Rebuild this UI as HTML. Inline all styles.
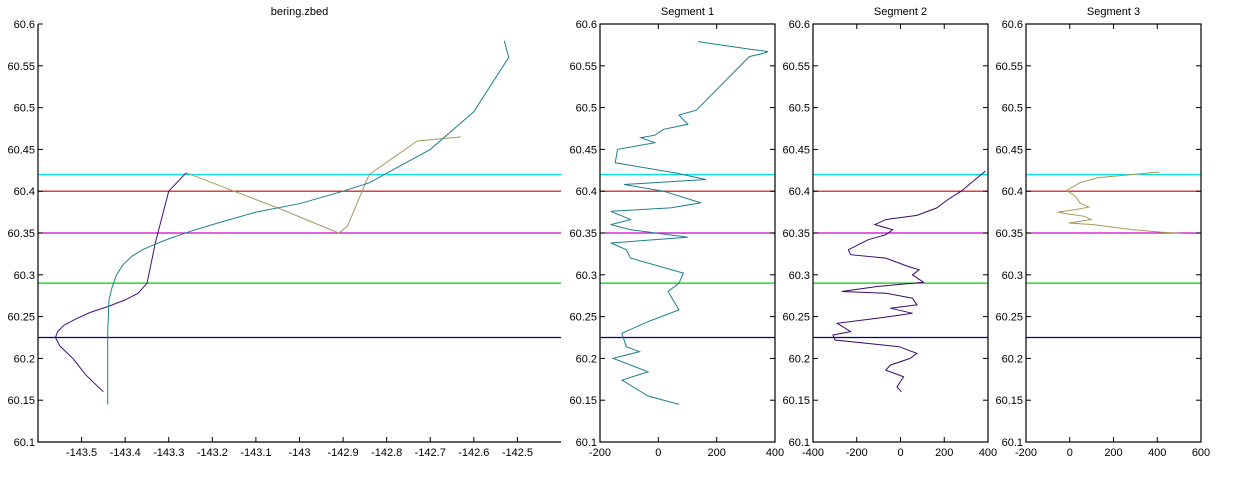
<!DOCTYPE html>
<html><head><meta charset="utf-8"><style>
body{margin:0;background:#fff;}
svg{display:block;font-family:"Liberation Sans",sans-serif;}
text{font-size:11px;fill:#000;}
</style></head><body>
<svg id="chart" width="1250" height="480" viewBox="0 0 1250 480" xmlns="http://www.w3.org/2000/svg"></svg>
<script>
// ---- data ----
const yTicks = [60.1,60.15,60.2,60.25,60.3,60.35,60.4,60.45,60.5,60.55,60.6];
const yTickLabels = ["60.1","60.15","60.2","60.25","60.3","60.35","60.4","60.45","60.5","60.55","60.6"];
const refLevels = [60.42,60.4,60.35,60.29,60.225];
const refColors = ["#00e0e8","#d00000","#d000d0","#00d000","#000090"];
const mainXTicks = [-143.5,-143.4,-143.3,-143.2,-143.1,-143,-142.9,-142.8,-142.7,-142.6,-142.5];
const mainXLabels = ["-143.5","-143.4","-143.3","-143.2","-143.1","-143","-142.9","-142.8","-142.7","-142.6","-142.5"];
const trackTealLon = [-143.44,-143.44,-143.44,-143.437,-143.43,-143.42,-143.405,-143.385,-143.36,-143.33,-143.3,-143.25,-143.2,-143.1,-143.0,-142.9,-142.84,-142.7,-142.6,-142.52,-142.53];
const trackTealLat = [60.145,60.2,60.23,60.27,60.285,60.3,60.312,60.322,60.33,60.337,60.343,60.352,60.36,60.375,60.385,60.4,60.41,60.45,60.495,60.56,60.58];
const trackPurpleLon = [-143.45,-143.49,-143.52,-143.55,-143.56,-143.555,-143.54,-143.51,-143.48,-143.44,-143.40,-143.37,-143.35,-143.33,-143.30,-143.26];
const trackPurpleLat = [60.16,60.18,60.2,60.215,60.225,60.232,60.24,60.248,60.255,60.262,60.27,60.278,60.29,60.34,60.40,60.422];
const trackOliveLon = [-143.26,-143.15,-143.05,-142.91,-142.89,-142.84,-142.73,-142.63];
const trackOliveLat = [60.422,60.4,60.38,60.35,60.358,60.42,60.46,60.465];
const seg1X = [136,312,376,361,312,131,71,101,18,-12,-60,-12,-140,-148,56,163,-118,18,146,41,-163,-95,-163,-95,101,-163,-110,-95,86,71,33,71,-35,-125,-110,-65,-155,-35,-125,-35,71];
const seg1Y = [60.579,60.57,60.567,60.565,60.561,60.497,60.491,60.48,60.474,60.467,60.464,60.458,60.45,60.434,60.422,60.414,60.408,60.4,60.386,60.38,60.376,60.366,60.36,60.354,60.345,60.338,60.33,60.32,60.302,60.29,60.28,60.258,60.244,60.23,60.214,60.208,60.2,60.184,60.174,60.155,60.145];
const seg2X = [388,277,216,166,75,-67,-117,-36,-67,-147,-238,-228,-67,34,85,55,105,-107,-269,-67,55,75,-46,55,-107,-289,-228,-309,-299,-6,75,44,-46,-67,14,-16,4];
const seg2Y = [60.424,60.4,60.39,60.38,60.371,60.366,60.36,60.354,60.348,60.342,60.33,60.324,60.32,60.31,60.306,60.3,60.291,60.286,60.28,60.278,60.272,60.264,60.26,60.254,60.248,60.242,60.232,60.228,60.222,60.214,60.206,60.2,60.192,60.186,60.178,60.166,60.16];
const seg3X = [409,288,127,46,-14,26,46,87,26,-54,-14,67,97,-4,107,288,423,540];
const seg3Y = [60.423,60.42,60.416,60.41,60.401,60.394,60.386,60.381,60.378,60.375,60.373,60.37,60.366,60.362,60.36,60.354,60.351,60.349];
const seg1Ticks = [-200,0,200,400];
const seg2Ticks = [-400,-200,0,200,400];
const seg3Ticks = [-200,0,200,400,600];

const NS="http://www.w3.org/2000/svg";
const svg=document.getElementById('chart');
function mk(tag,attrs,parent){const e=document.createElementNS(NS,tag);for(const k in attrs)e.setAttribute(k,attrs[k]);(parent||svg).appendChild(e);return e;}
const Y0=442,Y1=24,YMIN=60.1,YMAX=60.6;
function yS(v){return Y0-(v-YMIN)/(YMAX-YMIN)*(Y0-Y1);}

function panel(name,left,right,xmin,xmax,xt,xl,title,box,series){
  const g=mk('g',{});
  
  
  const xS=v=>left+(v-xmin)/(xmax-xmin)*(right-left);
  const t=mk('text',{x:(left+right)/2,y:15,'text-anchor':'middle'},g);t.textContent=title;
  
  
  refLevels.forEach((lv,i)=>{
    const l=mk('line',{x1:left,x2:right,y1:yS(lv),y2:yS(lv),stroke:refColors[i],'stroke-width':1.2},g);
    
    
  });
  series.forEach(s=>{
    const pts=s.x.map((v,i)=>xS(v).toFixed(1)+','+yS(s.y[i]).toFixed(1)).join(' ');
    const p=mk('polyline',{points:pts,fill:'none',stroke:s.c,'stroke-width':1},g);
    
    
  });
  if(box){mk('rect',{x:left,y:Y1,width:right-left,height:Y0-Y1,fill:'none',stroke:'#000','stroke-width':1.2},g);}
  else{mk('path',{d:`M${left},${Y1}V${Y0}H${right}`,fill:'none',stroke:'#000','stroke-width':1.2},g);}
  yTicks.forEach((v,i)=>{
    const y=yS(v);
    mk('line',{x1:left,x2:left+5,y1:y,y2:y,stroke:'#000'},g);
    if(box)mk('line',{x1:right,x2:right-5,y1:y,y2:y,stroke:'#000'},g);
    const tx=mk('text',{x:left-3,y:y+4,'text-anchor':'end'},g);tx.textContent=yTickLabels[i];
    
    
  });
  xt.forEach((v,i)=>{
    const x=xS(v);
    mk('line',{x1:x,x2:x,y1:Y0,y2:Y0-5,stroke:'#000'},g);
    if(box)mk('line',{x1:x,x2:x,y1:Y1,y2:Y1+5,stroke:'#000'},g);
    const tx=mk('text',{x:x,y:Y0+14,'text-anchor':'middle'},g);tx.textContent=xl[i];
    
    
  });
}
panel('main',38,561,-143.6,-142.4,mainXTicks,mainXLabels,'bering.zbed',false,[
  {x:trackOliveLon,y:trackOliveLat,c:'#a89a60',n:'track-olive'},
  {x:trackPurpleLon,y:trackPurpleLat,c:'#40107a',n:'track-purple'},
  {x:trackTealLon,y:trackTealLat,c:'#1f7f8f',n:'track-teal'}]);
panel('segment-1',600,775,-200,400,seg1Ticks,seg1Ticks.map(String),'Segment 1',true,[{x:seg1X,y:seg1Y,c:'#1f7f8f',n:'segment-1-profile'}]);
panel('segment-2',813,988,-400,400,seg2Ticks,seg2Ticks.map(String),'Segment 2',true,[{x:seg2X,y:seg2Y,c:'#3a0a6a',n:'segment-2-profile'}]);
panel('segment-3',1026,1201,-200,600,seg3Ticks,seg3Ticks.map(String),'Segment 3',true,[{x:seg3X,y:seg3Y,c:'#a89a55',n:'segment-3-profile'}]);
</script>
</body></html>
